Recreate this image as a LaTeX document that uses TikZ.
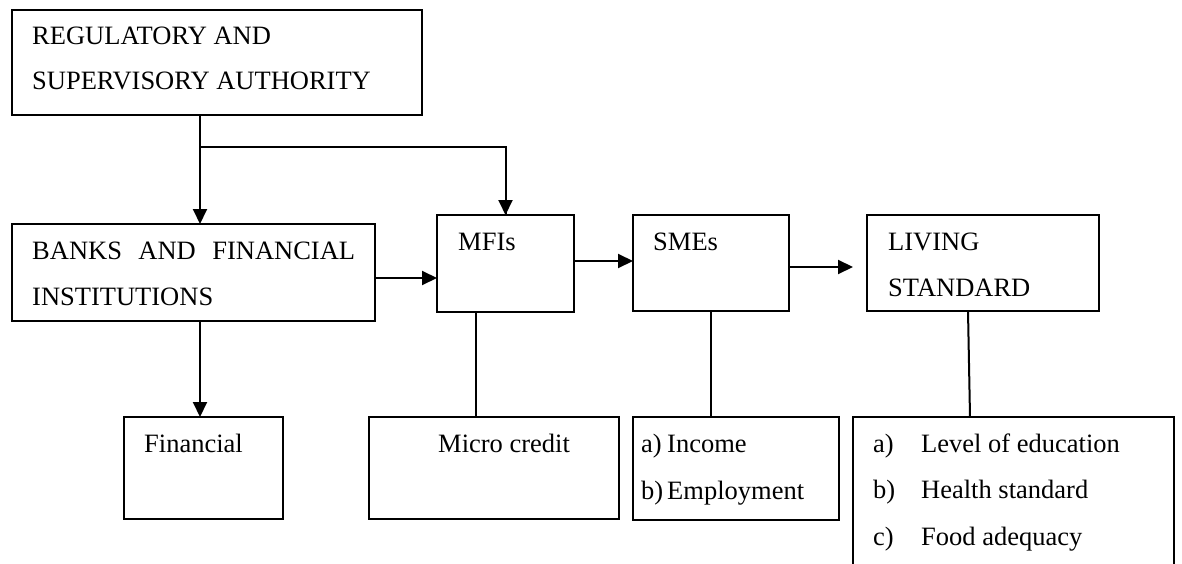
\documentclass[tikz,border=0pt]{standalone}
\usepackage{fontspec}
\setmainfont{Liberation Serif}
\usetikzlibrary{arrows.meta}
\tikzset{
    box/.style={draw,line width=2pt,anchor=north west,inner sep=0pt,outer sep=0pt},
    txt/.style={anchor=base west,inner sep=0pt,font=\fontsize{26.5}{32}\selectfont},
    link/.style={line width=2pt},
    arr/.style={link,-{Triangle[length=15pt,width=14pt]}}
}

\begin{document}
\begin{tikzpicture}[x=1pt,y=-1pt]
                \def\lw{26pt}
                \def\lwl{48pt}
                \useasboundingbox (0,0) rectangle (1182,564);
                \clip (0,0) rectangle (1182,564);
                % boxes
                \node[box,minimum width=410pt,minimum height=105pt] (reg) at (12,10) {};
                \node[box,minimum width=363pt,minimum height=97pt] (banks) at (12,224) {};
                \node[box,minimum width=137pt,minimum height=97pt] (mfis) at (437,215) {};
                \node[box,minimum width=156pt,minimum height=96pt] (smes) at (633,215) {};
                \node[box,minimum width=232pt,minimum height=96pt] (living) at (867,215) {};
                \node[box,minimum width=159pt,minimum height=102pt] (fin) at (124,417) {};
                \node[box,minimum width=250pt,minimum height=102pt] (micro) at (369,417) {};
                \node[box,minimum width=206pt,minimum height=103pt] (income) at (633,417) {};
                \node[box,minimum width=321pt,minimum height=200pt] (livsub) at (853,417) {};
                % texts
                \node[txt] (reg1) at (32,45) {REGULATORY AND};
                \node[txt] (reg2) at (32,90) {SUPERVISORY AUTHORITY};
                \node[txt] (banks1) at (32,259) {\makebox[323pt][s]{BANKS AND FINANCIAL}};
                \node[txt] (banks2) at (32,305) {INSTITUTIONS};
                \node[txt] (mfis1) at (458,250) {MFIs};
                \node[txt] (smes1) at (653,250) {SMEs};
                \node[txt] (living1) at (888,250) {LIVING};
                \node[txt] (living2) at (888,296) {STANDARD};
                \node[txt] (fin1) at (144,452) {Financial};
                \node[txt] (micro1) at (438,452) {Micro credit};
                \node[txt] (income1) at (641,452) {\makebox[\lw][l]{a)}Income};
                \node[txt] (income2) at (641,499) {\makebox[\lw][l]{b)}Employment};
                \node[txt] (livsub1) at (873,452) {\makebox[\lwl][l]{a)}Level of education};
                \node[txt] (livsub2) at (873,498) {\makebox[\lwl][l]{b)}Health standard};
                \node[txt] (livsub3) at (873,545) {\makebox[\lwl][l]{c)}Food adequacy};
                % connectors
                \coordinate (split) at (200,147);
                \draw[arr] (reg.south -| split) -- (banks.north -| split);
                \draw[link] (split) -| ([yshift=-1pt]mfis.north);
                \draw[arr] (split -| mfis.north) -- (mfis.north);
                \draw[arr] ([yshift=-5.5pt]banks.east) -- ([yshift=-5.5pt]banks.east -| mfis.west);
                \draw[arr] ([yshift=2.5pt]mfis.east) -- ([yshift=2.5pt]mfis.east -| smes.west);
                \draw[arr] ([yshift=-4pt]smes.east) -- ([xshift=-14pt,yshift=-4pt]living.west);
                \draw[arr] (banks.south -| split) -- (fin.north -| split);
                \draw[link] ([xshift=-29.5pt]mfis.south) -- ([xshift=-29.5pt]mfis.south |- micro.north);
                \draw[link] (smes.south) -- (smes.south |- income.north);
                \draw[link] ([xshift=-15pt]living.south) -- ([xshift=-13pt]living.south |- livsub.north);
            \end{tikzpicture}
\end{document}
